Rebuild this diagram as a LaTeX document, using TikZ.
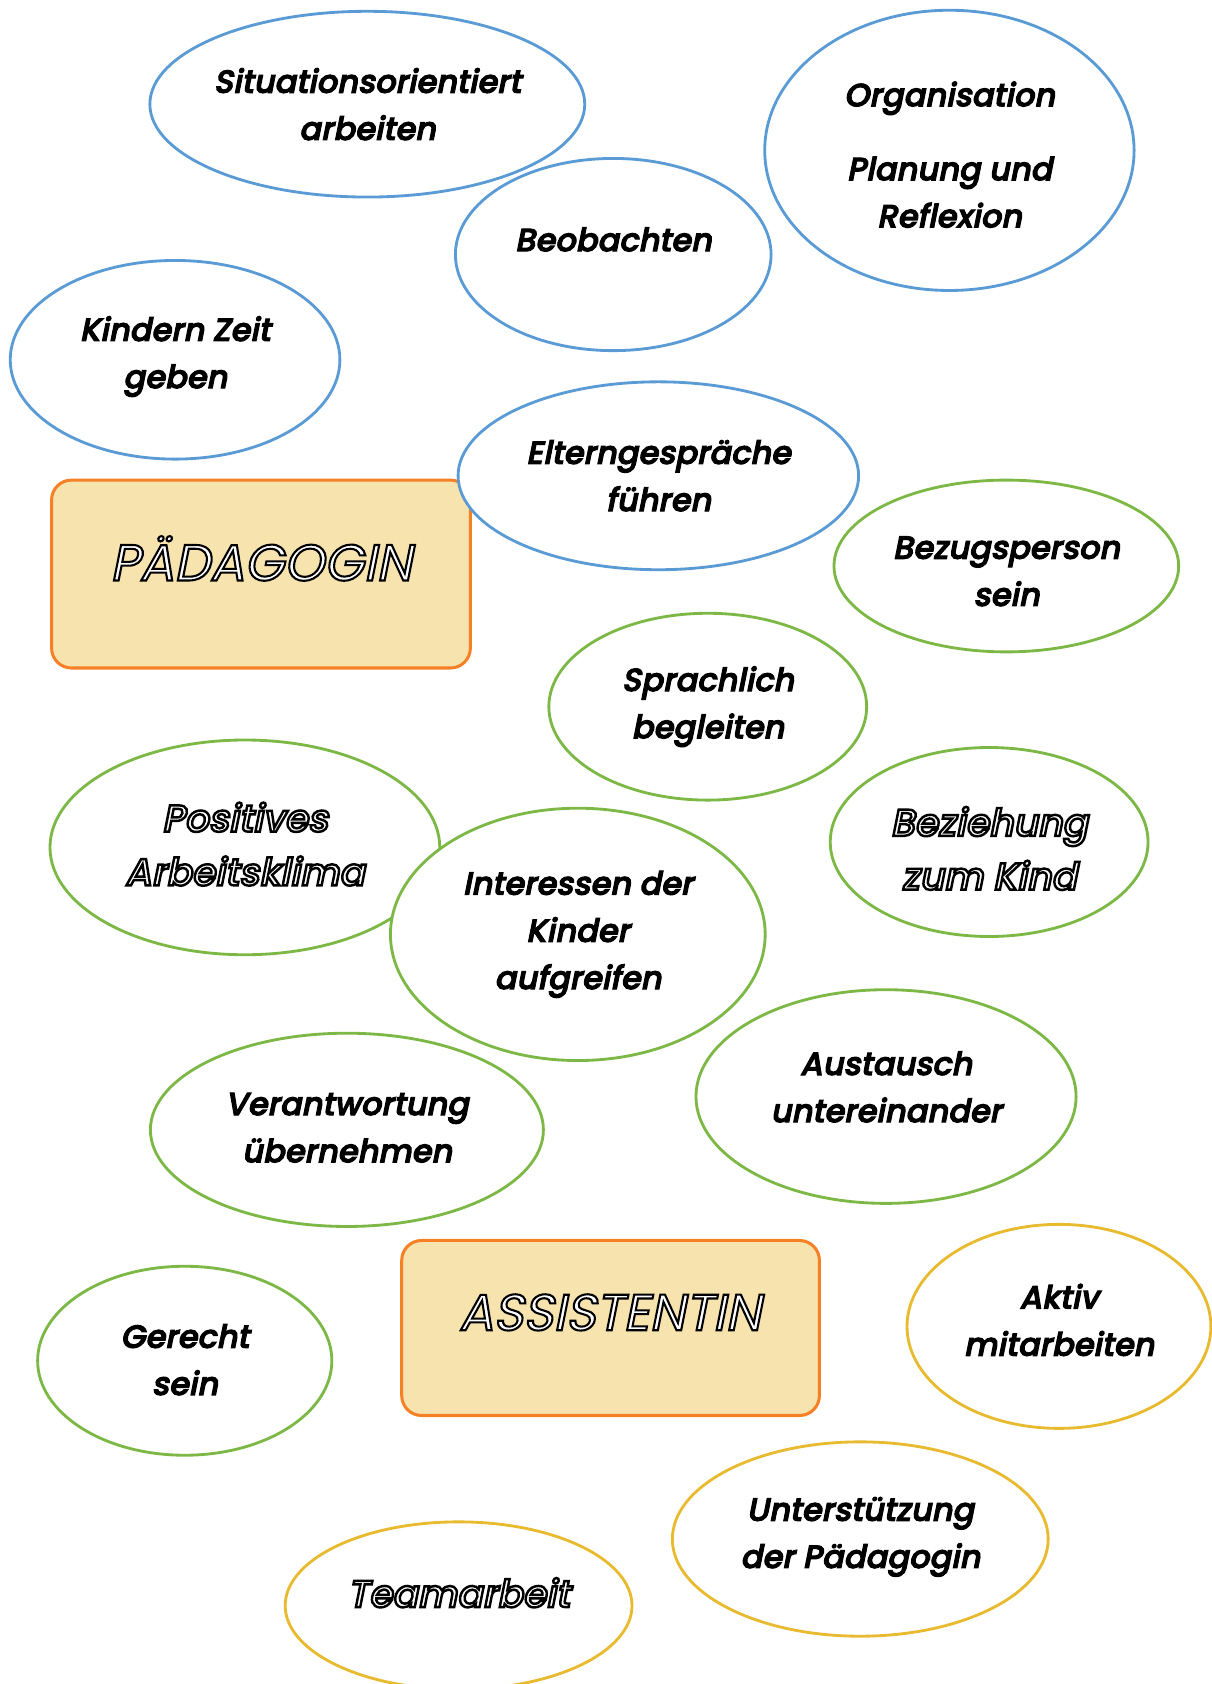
\documentclass[tikz,border=0pt]{standalone}
\usepackage{fontspec}
\usetikzlibrary{shapes.geometric}

\IfFontExistsTF{Poppins Medium}
  {\newfontfamily\bubblefont{Poppins Medium}[FakeSlant=0.2]}
  {\newfontfamily\bubblefont{Poppins}[FakeSlant=0.2]}
\newfontfamily\hollowfont{Poppins}[FakeSlant=0.2]

\definecolor{bubbleblue}{RGB}{91,155,213}
\definecolor{bubblegreen}{RGB}{125,184,70}
\definecolor{bubblegold}{RGB}{232,186,48}
\definecolor{boxorange}{RGB}{245,128,37}
\definecolor{boxfill}{RGB}{246,227,174}

% white letters with a black rim
\newcommand{\hollow}[2][0.8]{\special{pdf:literal direct 2 Tr #1 w 1 g 0 G}#2\special{pdf:literal direct 0 Tr 0 g 0 G}}

\tikzset{
  bubble/.style={ellipse, line width=1.5pt, fill=white, inner sep=0pt},
  bluebubble/.style={bubble, draw=bubbleblue},
  greenbubble/.style={bubble, draw=bubblegreen},
  goldbubble/.style={bubble, draw=bubblegold},
  bubbletext/.style={align=center, inner sep=0pt, font=\bubblefont\fontsize{17}{25}\selectfont,
    execute at begin node={\special{pdf:literal direct 2 Tr 0.55 w 0 g 0 G}},
    execute at end node={\special{pdf:literal direct 0 Tr}}},
  bigtext/.style={align=center, inner sep=0pt, font=\bubblefont\fontsize{20}{28.5}\selectfont},
  rolebox/.style={rectangle, rounded corners=0.37cm, draw=boxorange, fill=boxfill,
    line width=1.6pt},
  roletext/.style={inner sep=0pt, font=\hollowfont\fontsize{27}{30}\selectfont}
}

\begin{document}
\begin{tikzpicture}[x=0.02cm, y=-0.02cm]

\useasboundingbox (0,0) rectangle (1128,1568);

% Boxes

\node[rolebox, minimum width=7.8cm, minimum height=3.5cm] (paed) at (243,534.5) {};
\node[roletext] (paedtext) at (243,520) {\hollow[1.1]{PÄDAGOGIN}};
\node[rolebox, minimum width=7.78cm, minimum height=3.26cm] (assi) at (568.5,1236.5) {};
\node[roletext] (assitext) at (568,1222) {\hollow[1.1]{ASSISTENTIN}};

% Blue bubbles

\node[bluebubble, minimum width=8.1cm, minimum height=3.46cm] (situation) at (342,97) {};
\node[bluebubble, minimum width=6.88cm, minimum height=5.22cm] (organisation) at (884,140) {};
\node[bluebubble, minimum width=5.88cm, minimum height=3.58cm] (beobachten) at (571,237) {};
\node[bluebubble, minimum width=6.14cm, minimum height=3.7cm] (zeit) at (163,335) {};
\node[bluebubble, minimum width=7.46cm, minimum height=3.5cm] (eltern) at (613,443) {};

\node[bubbletext] (situationtext) at (342,97) {Situationsorientiert\\arbeiten};
\node[bubbletext] (organisationtext) at (884,144) {Organisation\\[0.5cm]Planung und\\Reflexion};
\node[bubbletext] (beobachtentext) at (571,223) {Beobachten};
\node[bubbletext] (zeittext) at (163,332) {Kindern Zeit\\geben};
\node[bubbletext] (elterntext) at (613,443) {Elterngespräche\\führen};

% Green bubbles

\node[greenbubble, minimum width=6.42cm, minimum height=3.2cm] (bezugsperson) at (937,527) {};
\node[greenbubble, minimum width=5.92cm, minimum height=3.48cm] (sprache) at (659,658) {};
\node[greenbubble, minimum width=7.26cm, minimum height=4cm] (klima) at (228,789) {};
\node[greenbubble, minimum width=5.92cm, minimum height=3.52cm] (beziehung) at (921,784) {};
\node[greenbubble, minimum width=6.98cm, minimum height=4.7cm] (interessen) at (538,870) {};
\node[greenbubble, minimum width=7.32cm, minimum height=3.6cm] (verantwortung) at (323,1052) {};
\node[greenbubble, minimum width=7.08cm, minimum height=3.98cm] (austausch) at (825,1021) {};
\node[greenbubble, minimum width=5.48cm, minimum height=3.52cm] (gerecht) at (172,1267) {};

\node[bubbletext] (bezugspersontext) at (937,532) {Bezugsperson\\sein};
\node[bubbletext] (sprachetext) at (659,658) {Sprachlich\\begleiten};
\node[bigtext] (klimatext) at (228,786) {\hollow[1.3]{Positives}\\\hollow[1.3]{Arbeitsklima}};
\node[bigtext] (beziehungtext) at (921,790) {\hollow[1.3]{Beziehung}\\\hollow[1.3]{zum Kind}};
\node[bubbletext] (interessentext) at (538,870) {Interessen der\\Kinder\\aufgreifen};
\node[bubbletext] (verantwortungtext) at (323,1050) {Verantwortung\\übernehmen};
\node[bubbletext] (austauschtext) at (825,1012) {Austausch\\untereinander};
\node[bubbletext] (gerechttext) at (172,1266) {Gerecht\\sein};

% Gold bubbles

\node[goldbubble, minimum width=5.66cm, minimum height=3.8cm] (aktiv) at (986,1235) {};
\node[goldbubble, minimum width=7cm, minimum height=3.62cm] (unterstuetzung) at (801,1433) {};
\node[goldbubble, minimum width=6.46cm, minimum height=3.12cm] (team) at (427,1495) {};

\node[bubbletext] (aktivtext) at (986,1229) {Aktiv\\mitarbeiten};
\node[bubbletext] (unterstuetzungtext) at (801,1431) {Unterstützung\\der Pädagogin};
\node[bigtext] (teamtext) at (427,1483) {\hollow[1.3]{Teamarbeit}};

\end{tikzpicture}
\end{document}
